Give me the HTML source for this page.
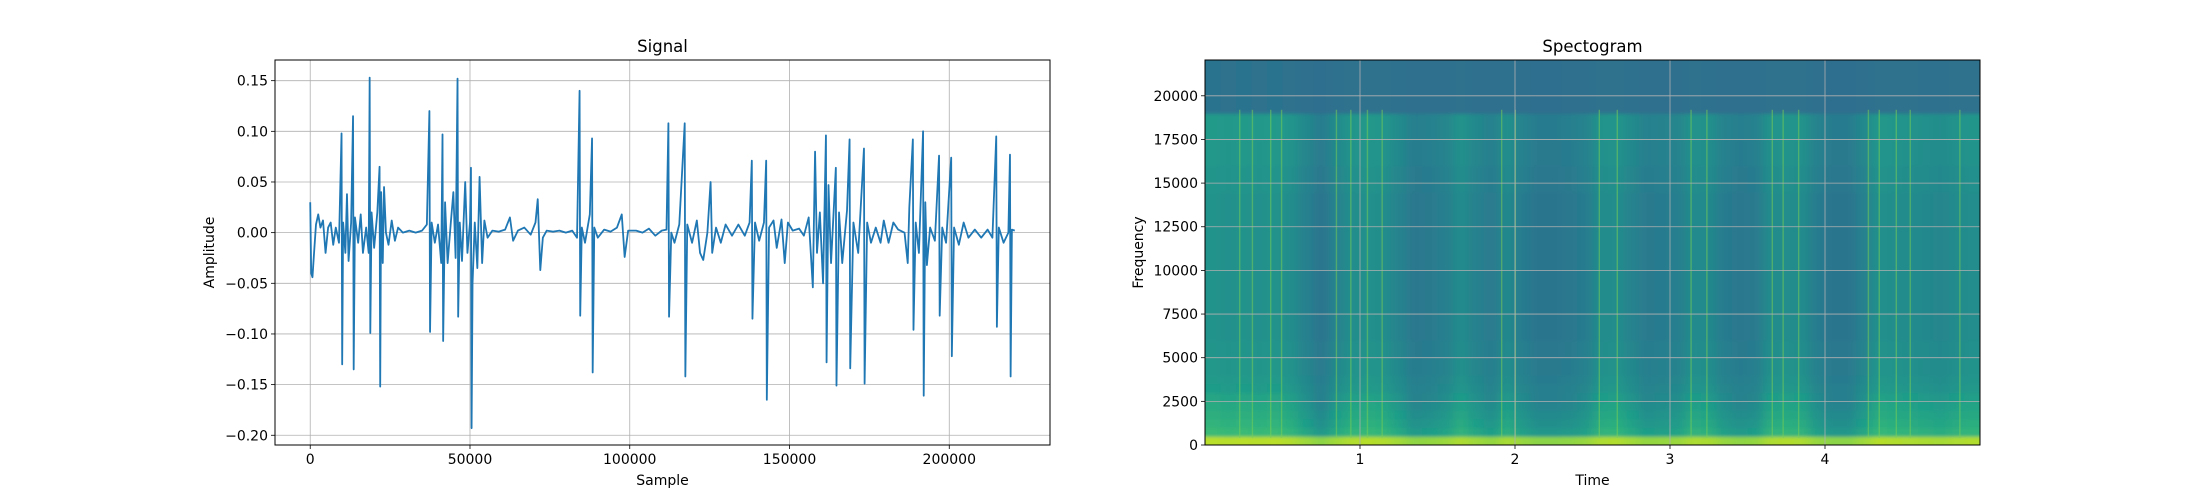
<!DOCTYPE html>
<html><head><meta charset="utf-8">
<style>
html,body{margin:0;padding:0;background:#fff;}
svg{display:block;font-family:"DejaVu Sans","Liberation Sans",sans-serif;}
</style></head>
<body>
<svg id="fig" width="2200" height="500" viewBox="0 0 2200 500" xmlns="http://www.w3.org/2000/svg">
<rect width="2200" height="500" fill="#fff"/>
<defs>
<clipPath id="c1"><rect x="275" y="60" width="775" height="385"/></clipPath>
<clipPath id="c2"><rect x="1205" y="60" width="775" height="385"/></clipPath>
<filter id="hblur" x="-5%" y="-10%" width="110%" height="120%"><feGaussianBlur stdDeviation="5 1.5"/></filter>
</defs>
<g id="sig"></g>
<g id="spec"></g>
</svg>
<script>
// ---- Signal data ----
const sampleIdx = [0,300,700,1200,1800,2500,3200,4000,4800,5600,6400,7200,8000,9000,9800,10000,10300,11000,11500,12000,12800,13400,13600,14000,15000,15800,16500,17500,18300,18600,18800,19200,20000,21000,21700,21900,22200,22700,23100,23700,24500,25500,26500,27500,29000,31000,33000,35000,36500,37300,37500,38000,39000,40000,41000,41400,41600,42200,43000,44000,44800,45500,46100,46300,46800,47500,48500,49200,50000,50300,50500,50800,51500,52300,53000,53800,54500,55500,57000,59000,61000,62500,63500,65000,67000,69000,70500,71200,72000,72800,74000,76000,78000,80000,82000,83500,84300,84500,85000,86000,87500,88200,88400,88900,90000,92000,94000,96000,97500,98400,99500,102000,104000,106000,108000,110000,111500,112100,112300,113000,114000,115500,117200,117400,118000,119500,121000,122000,123000,124300,125300,125800,127000,128500,130000,132000,134000,136000,137500,138200,138400,139200,140500,142000,142700,142900,143600,145000,146000,147500,148500,149500,151000,153000,154500,156000,157300,158000,158600,159500,160500,161400,161600,162200,163000,164500,164700,165500,166500,168000,168800,169000,170000,171500,173300,173500,174300,175500,177000,178500,179500,181000,182500,184000,186000,187000,187500,188600,188800,189500,190500,191800,192000,192500,193000,194000,195500,196800,197000,197800,199000,200600,200800,201500,203000,204500,206000,208000,210000,212000,213500,214700,214900,215500,217000,218500,219000,219200,219600,220500];
const amplitude = [0.03,-0.04,-0.044,-0.02,0.008,0.018,0.005,0.012,-0.02,0.005,0.01,-0.012,0.005,-0.01,0.098,-0.13,0.01,-0.02,0.038,-0.028,0.01,0.115,-0.135,0.015,-0.01,0.018,-0.02,0.005,-0.02,0.153,-0.099,0.02,-0.015,0.02,0.065,-0.152,0.04,-0.03,0.045,0.0,-0.012,0.012,-0.008,0.005,0.0,0.002,0.0,0.002,0.008,0.12,-0.098,0.01,-0.01,0.008,-0.03,0.097,-0.107,0.03,-0.03,0.01,0.04,-0.025,0.152,-0.083,0.01,-0.028,0.05,-0.02,0.01,0.064,-0.193,-0.05,0.01,-0.035,0.055,-0.03,0.012,-0.005,0.002,0.001,0.003,0.015,-0.008,0.002,0.005,-0.002,0.01,0.033,-0.037,-0.005,0.002,0.001,0.002,0.0,0.002,-0.005,0.14,-0.082,0.005,-0.01,0.018,0.093,-0.138,0.005,-0.005,0.003,0.001,0.005,0.018,-0.024,0.002,0.002,0.0,0.004,-0.003,0.002,0.003,0.108,-0.083,0.0,-0.01,0.008,0.108,-0.142,0.008,-0.01,0.012,-0.02,-0.027,0.0,0.05,-0.02,0.005,-0.01,0.008,-0.003,0.008,-0.003,0.01,0.071,-0.085,0.01,-0.008,0.01,0.071,-0.165,0.005,0.012,-0.015,0.013,-0.03,0.01,0.002,0.004,-0.003,0.015,-0.054,0.08,-0.02,0.02,-0.05,0.096,-0.128,0.047,-0.03,0.064,-0.151,0.02,-0.03,0.022,0.092,-0.134,0.01,-0.02,0.083,-0.149,0.01,-0.01,0.005,-0.01,0.012,-0.01,0.01,0.003,0.0,-0.03,0.025,0.092,-0.096,0.01,-0.02,0.1,-0.161,0.03,-0.032,0.005,-0.008,0.076,-0.082,0.005,-0.01,0.074,-0.122,0.005,-0.012,0.01,-0.005,0.003,-0.005,0.003,-0.005,0.095,-0.093,0.005,-0.01,0.0,0.077,-0.142,0.003,0.002];
const sigXTicks = [0,50000,100000,150000,200000];
const sigYTicks = [0.15,0.10,0.05,0.00,-0.05,-0.10,-0.15,-0.20];
const sigYLabels = ["0.15","0.10","0.05","0.00","\u22120.05","\u22120.10","\u22120.15","\u22120.20"];

// ---- Spectrogram data ----
const specColEnergy = [0.8,0.75,0.8,0.75,0.8,0.7,0.45,0.2,0.5,0.7,0.75,0.7,0.5,0.25,0.3,0.4,0.65,0.45,0.3,0.6,0.35,0.2,0.2,0.25,0.35,0.65,0.7,0.5,0.3,0.35,0.4,0.65,0.6,0.35,0.25,0.3,0.65,0.7,0.65,0.35,0.2,0.2,0.45,0.75,0.7,0.65,0.6,0.55,0.65,0.7];
const specRowLevel = [0.86,0.6,0.57,0.55,0.53,0.51,0.49,0.48,0.47,0.47,0.46,0.46,0.45,0.45,0.45,0.45,0.45,0.45,0.45,0.45,0.45,0.45,0.45,0.45,0.45,0.45,0.45,0.45,0.45,0.46,0.46,0.46,0.47,0.47,0.47,0.48,0.48,0.48,0.37,0.37,0.37,0.37,0.37,0.37];
const spikeTimes = [0.224,0.306,0.424,0.494,0.848,0.941,1.048,1.143,1.914,2.002,2.544,2.66,3.136,3.238,3.66,3.73,3.83,4.28,4.35,4.46,4.55,4.87];
const specXTicks = [1,2,3,4];
const specYTicks = [0,2500,5000,7500,10000,12500,15000,17500,20000];

const NS="http://www.w3.org/2000/svg";
function mk(tag, attrs, parent){const e=document.createElementNS(NS,tag);for(const k in attrs)e.setAttribute(k,attrs[k]);parent.appendChild(e);return e;}

// ===== Signal chart =====
const sg=document.getElementById('sig');
const L1=275,R1=1050,T=60,B=445;
const sx=v=>L1+(v-(-11025))/(231525-(-11025))*(R1-L1);
const sy=v=>T+(0.1704-v)/(0.1704-(-0.2096))*(B-T);
sigXTicks.forEach(t=>{
  const g=mk('line',{x1:sx(t),x2:sx(t),y1:T,y2:B,stroke:'#b0b0b0','stroke-width':0.8},sg);
  
  
});
sigYTicks.forEach(t=>{
  const g=mk('line',{x1:L1,x2:R1,y1:sy(t),y2:sy(t),stroke:'#b0b0b0','stroke-width':0.8},sg);
  
  
});
let pts=sampleIdx.map((s,i)=>sx(s).toFixed(2)+','+sy(amplitude[i]).toFixed(2)).join(' ');
const line=mk('polyline',{points:pts,fill:'none',stroke:'#1f77b4','stroke-width':1.8,'stroke-linejoin':'round','clip-path':'url(#c1)'},sg);


const f1=mk('rect',{x:L1,y:T,width:R1-L1,height:B-T,fill:'none',stroke:'#000','stroke-width':1},sg);


sigXTicks.forEach(t=>{
  mk('line',{x1:sx(t),x2:sx(t),y1:B,y2:B+4,stroke:'#000','stroke-width':0.8},sg);
  const tx=mk('text',{x:sx(t),y:B+19,'font-size':14,'text-anchor':'middle',fill:'#000'},sg);
  tx.textContent=String(t);
  
  
});
sigYTicks.forEach((t,i)=>{
  mk('line',{x1:L1-4,x2:L1,y1:sy(t),y2:sy(t),stroke:'#000','stroke-width':0.8},sg);
  const tx=mk('text',{x:L1-7,y:sy(t)+5,'font-size':14,'text-anchor':'end',fill:'#000'},sg);
  tx.textContent=sigYLabels[i];
  
  
});
let t1=mk('text',{x:(L1+R1)/2,y:52,'font-size':16.5,'text-anchor':'middle'},sg);t1.textContent='Signal';


let xl1=mk('text',{x:(L1+R1)/2,y:485,'font-size':14,'text-anchor':'middle'},sg);xl1.textContent='Sample';


let yl1=mk('text',{x:0,y:0,'font-size':14,'text-anchor':'middle',transform:`translate(214,${(T+B)/2}) rotate(-90)`},sg);yl1.textContent='Amplitude';



// ===== Spectrogram =====
const sp=document.getElementById('spec');
const L2=1205,R2=1980;
const tx2=v=>L2+(v-0)/(5-0)*(R2-L2);
const fy=v=>B-(v/22050)*(B-T);
const vir=[[68,1,84],[72,40,120],[62,74,137],[49,104,142],[38,130,142],[31,158,137],[53,183,121],[109,205,89],[180,222,44],[253,231,37]];
function cmap(v){v=Math.max(0,Math.min(1,v));const p=v*(vir.length-1);const i=Math.min(vir.length-2,Math.floor(p));const f=p-i;const a=vir[i],b=vir[i+1];return `rgb(${Math.round(a[0]+(b[0]-a[0])*f)},${Math.round(a[1]+(b[1]-a[1])*f)},${Math.round(a[2]+(b[2]-a[2])*f)})`;}
const clipG=mk('g',{'clip-path':'url(#c2)'},sp);
const cells=mk('g',{filter:'url(#hblur)'},clipG);


const colW=0.1,rowH=500;
const nC=specColEnergy.length,nR=specRowLevel.length;
specColEnergy.forEach((e,c)=>{
  specRowLevel.forEach((lv,r)=>{
    const gain=r>=38?0.03:(r===0?0.12:(r<6?0.26:0.2));
    const v=lv+gain*(e-0.5);
    const xa=tx2(c*colW)-(c===0?20:0), xb=tx2((c+1)*colW)+(c===nC-1?20:0.6);
    const y0=fy((r+1)*rowH)-(r===nR-1?20:0), y1=fy(r*rowH)+(r===0?20:0.6);
    const cell=mk('rect',{x:xa.toFixed(2),y:y0.toFixed(2),width:(xb-xa).toFixed(2),height:(y1-y0).toFixed(2),fill:cmap(v)},cells);
    
    
  });
});
spikeTimes.forEach(t=>{
  const s=mk('rect',{x:tx2(t)-0.7,y:fy(19200),width:1.4,height:fy(400)-fy(19200),fill:'#7ad151',opacity:0.5},clipG);
  
  
});
specXTicks.forEach(t=>{
  const g=mk('line',{x1:tx2(t),x2:tx2(t),y1:T,y2:B,stroke:'#b0b0b0','stroke-width':0.8},sp);
  
  
});
specYTicks.forEach(t=>{
  const g=mk('line',{x1:L2,x2:R2,y1:fy(t),y2:fy(t),stroke:'#b0b0b0','stroke-width':0.8},sp);
  
  
});
const f2=mk('rect',{x:L2,y:T,width:R2-L2,height:B-T,fill:'none',stroke:'#000','stroke-width':1},sp);


specXTicks.forEach(t=>{
  mk('line',{x1:tx2(t),x2:tx2(t),y1:B,y2:B+4,stroke:'#000','stroke-width':0.8},sp);
  const tt=mk('text',{x:tx2(t),y:B+19,'font-size':14,'text-anchor':'middle'},sp);tt.textContent=String(t);
  
  
});
specYTicks.forEach(t=>{
  mk('line',{x1:L2-4,x2:L2,y1:fy(t),y2:fy(t),stroke:'#000','stroke-width':0.8},sp);
  const tt=mk('text',{x:L2-7,y:fy(t)+5,'font-size':14,'text-anchor':'end'},sp);tt.textContent=String(t);
  
  
});
let t2=mk('text',{x:(L2+R2)/2,y:52,'font-size':16.5,'text-anchor':'middle'},sp);t2.textContent='Spectogram';


let xl2=mk('text',{x:(L2+R2)/2,y:485,'font-size':14,'text-anchor':'middle'},sp);xl2.textContent='Time';


let yl2=mk('text',{x:0,y:0,'font-size':14,'text-anchor':'middle',transform:`translate(1143,${(T+B)/2}) rotate(-90)`},sp);yl2.textContent='Frequency';


</script>
</body></html>
